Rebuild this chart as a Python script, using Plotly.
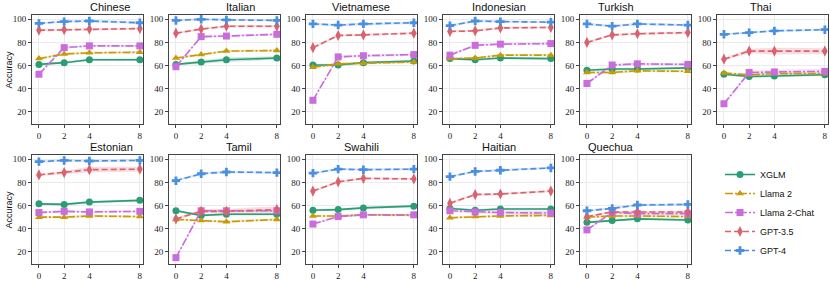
import plotly.graph_objects as go

W, H = 830, 281
shots = [0, 2, 4, 8]
languages = ["Chinese", "Italian", "Vietnamese", "Indonesian", "Turkish", "Thai",
             "Estonian", "Tamil", "Swahili", "Haitian", "Quechua"]
models = ["XGLM", "Llama 2", "Llama 2-Chat", "GPT-3.5", "GPT-4"]

# accuracy per language: [XGLM, Llama 2, Llama 2-Chat, GPT-3.5, GPT-4]
chinese = [[61, 62.5, 65, 65], [66, 70, 71, 71.5], [52.5, 75.5, 77, 77], [90.5, 91, 91.5, 92], [96.5, 98, 98.5, 97]]
italian = [[61, 63, 65, 66.5], [66.5, 69.5, 72.5, 73], [59, 85, 85.5, 87], [88, 91.5, 94, 94], [99, 100, 99.5, 99]]
vietnamese = [[60.5, 60.5, 62.5, 64], [58.5, 61.5, 62, 63], [30, 67.5, 68.5, 69.5], [75.5, 86, 86.5, 88], [96, 95, 96, 97]]
indonesian = [[66, 65, 66.5, 66], [66, 66.5, 69, 69], [69, 77.5, 78.5, 79], [89.5, 90, 92.5, 93], [94.5, 98.5, 98, 97.5]]
turkish = [[56, 57, 57, 58], [54, 54, 55.5, 55], [44.5, 60.5, 61.5, 61], [80, 86.5, 87.5, 88.5], [96, 94, 96, 95]]
thai = [[52.5, 50.5, 51, 52], [53.5, 52, 53, 53], [27, 54, 54.5, 55], [65.5, 72.5, 72.5, 72.5], [87, 88.5, 90, 91]]
estonian = [[61.5, 61, 63, 64.5], [50, 50, 51, 50.5], [54, 55, 54.5, 55], [86.5, 88.5, 91, 91.5], [98, 99, 98.5, 99]]
tamil = [[55.5, 51.5, 52.5, 52.5], [48, 47, 46, 48], [15, 55.5, 55.5, 55.5], [48.5, 55, 55, 56.5], [81.5, 87.5, 89, 88.5]]
swahili = [[56, 56.5, 58, 59.5], [51, 51, 52, 51.5], [44, 50.5, 52, 52], [72.5, 80.5, 83.5, 83], [88, 91.5, 91, 91.5]]
haitian = [[57.5, 56, 57, 57], [49.5, 50.5, 51, 51.5], [55.5, 54.5, 54, 53.5], [62, 69.5, 70, 72.5], [85, 89.5, 90.5, 92.5]]
quechua = [[45.5, 47, 48.5, 47.5], [50, 51, 51, 50.5], [39, 54, 53, 53], [50.5, 54.5, 54.5, 54.5], [55.5, 57.5, 60.5, 61]]
data = [chinese, italian, vietnamese, indonesian, turkish, thai,
        estonian, tamil, swahili, haitian, quechua]

# confidence band half-widths (default and a few wider ones)
band_default = 1.0
band_wide = {("Thai", "GPT-3.5"): [1, 2, 3, 2.5], ("Estonian", "GPT-3.5"): [1, 1.5, 2.5, 2],
             ("Tamil", "GPT-3.5"): [1, 1.5, 2, 3], ("Italian", "XGLM"): [1, 1.5, 2, 1.5],
             ("Thai", "Llama 2-Chat"): [1, 1.5, 2, 2], ("Haitian", "Llama 2-Chat"): [1, 1.5, 1.5, 2]}

colors = ["#2a9d74", "#c99a06", "#c86ddb", "#d9626f", "#4a8fe0"]
symbols = ["circle", "triangle-up", "square", "diamond-tall", "cross"]
dashes = ["solid", "8px,2px,2px,2px", "8px,2px,2px,2px", "6px,3px", "6px,3px"]
yticks = [20, 40, 60, 80, 100]


def rgba(hexc, a):
    h = hexc.lstrip("#")
    return "rgba(%d,%d,%d,%.2f)" % (int(h[0:2], 16), int(h[2:4], 16), int(h[4:6], 16), a)


fig = go.Figure()
serif = "Liberation Serif, DejaVu Serif, serif"
sans = "Liberation Sans, Arial, sans-serif"

for i, (lang, vals) in enumerate(zip(languages, data)):
    row, col = divmod(i, 6)
    left = 32 + 137 * col
    top = 15 + 140 * row
    x0, x1 = left / W, (left + 111) / W
    y0, y1 = 1 - (top + 109) / H, 1 - top / H
    ax = "" if i == 0 else str(i + 1)
    xa, ya = "x" + ax, "y" + ax
    for m, (name, ys) in enumerate(zip(models, vals)):
        hw = band_wide.get((lang, name), [band_default] * 4)
        up = [y + h for y, h in zip(ys, hw)]
        lo = [y - h for y, h in zip(ys, hw)]
        fig.add_trace(go.Scatter(x=shots + shots[::-1], y=up + lo[::-1], fill="toself",
                                 fillcolor=rgba(colors[m], 0.22), line=dict(width=0),
                                 mode="lines", showlegend=False, hoverinfo="skip",
                                 xaxis=xa, yaxis=ya))
    for m, (name, ys) in enumerate(zip(models, vals)):
        fig.add_trace(go.Scatter(x=shots, y=ys, mode="lines+markers", name=name,
                                 showlegend=(i == 0),
                                 line=dict(color=colors[m], width=1.6, dash=dashes[m]),
                                 marker=dict(symbol=symbols[m], size=7 if m != 3 else 8,
                                             color=colors[m], line=dict(width=0)),
                                 xaxis=xa, yaxis=ya))
    axcommon = dict(showline=True, linecolor="#444", linewidth=1, mirror=True,
                    ticks="outside", ticklen=3, tickcolor="#444",
                    gridcolor="#ebebeb", gridwidth=1, zeroline=False,
                    tickfont=dict(family=serif, size=9, color="#222"))
    fig.layout["xaxis" + ax] = dict(domain=[x0, x1], range=[-0.55, 8.25], anchor=ya,
                                    tickvals=shots, ticktext=[str(s) for s in shots], **axcommon)
    fig.layout["yaxis" + ax] = dict(domain=[y0, y1], range=[9.5, 103.7], anchor=xa,
                                    tickvals=yticks, **axcommon)
    fig.add_annotation(text=lang, x=(x0 + x1) / 2, y=y1, xref="paper", yref="paper",
                       yanchor="bottom", yshift=0, showarrow=False,
                       font=dict(family=sans, size=11, color="#111"))

for r in range(2):
    ymid = 1 - (15 + 140 * r + 54.5) / H
    fig.add_annotation(text="Accuracy", x=8 / W, y=ymid, xref="paper", yref="paper",
                       textangle=-90, showarrow=False, xanchor="center", yanchor="middle",
                       font=dict(family=sans, size=9, color="#111"))

fig.update_layout(width=W, height=H, margin=dict(l=0, r=0, t=0, b=0, autoexpand=False),
                  plot_bgcolor="white", paper_bgcolor="white",
                  legend=dict(x=720 / W, y=1 - 160 / H, xanchor="left", yanchor="top",
                              font=dict(family=sans, size=9, color="#111"),
                              bgcolor="rgba(0,0,0,0)", tracegroupgap=0, itemwidth=30))
fig.write_html("out.html", config={"displayModeBar": False},
               post_script="document.body.style.margin='0';document.body.style.overflow='hidden';")
